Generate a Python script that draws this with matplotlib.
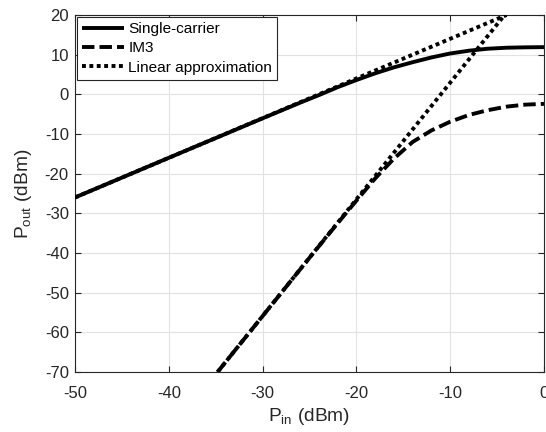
import matplotlib
matplotlib.use("Agg")
import matplotlib.pyplot as plt

plt.rcParams['font.family'] = ['Liberation Sans', 'DejaVu Sans']
plt.rcParams['mathtext.fontset'] = 'custom'
plt.rcParams['mathtext.rm'] = 'Liberation Sans'
plt.rcParams['mathtext.it'] = 'Liberation Sans:italic'

# Data
pin_single = [-50, -40, -30, -26, -24, -22, -20, -18, -16, -14, -12, -10, -8, -6, -4, -2, 0]
pout_single = [-26, -16, -6.05, -2.1, -0.2, 1.8, 3.6, 5.3, 6.8, 8.1, 9.3, 10.3, 11.0, 11.5, 11.75, 11.85, 11.9]

pin_im3 = [-34.8, -30, -25, -22, -20, -18, -16, -14, -12, -10, -8, -6, -4, -2, 0]
pout_im3 = [-70, -55.9, -41.2, -32.5, -26.8, -21.2, -16.2, -12.0, -9.1, -6.9, -5.2, -4.0, -3.1, -2.6, -2.4]

pin_lin_single = [-50, -4]
pout_lin_single = [-26, 20]
pin_lin_im3 = [-34.8, -4.2]
pout_lin_im3 = [-70, 20]

x_ticks = [-50, -40, -30, -20, -10, 0]
y_ticks = [-70, -60, -50, -40, -30, -20, -10, 0, 10, 20]
series_labels = ['Single-carrier', 'IM3', 'Linear approximation']

fig = plt.figure(figsize=(5.46, 4.32), dpi=100)
ax = fig.add_axes([75/546, 60/432, 469/546, 357/432])

lw = 2.8
ax.plot(pin_single, pout_single, color='black', lw=lw, solid_capstyle='butt',
        label=series_labels[0], zorder=3)
ax.plot(pin_im3, pout_im3, color='black', lw=lw, linestyle=(0, (3.2, 1.3)),
        dash_capstyle='butt', label=series_labels[1], zorder=3)
ax.plot(pin_lin_single, pout_lin_single, color='black', lw=lw,
        linestyle=(0, (1.0, 0.9)), dash_capstyle='butt',
        label=series_labels[2], zorder=4)
ax.plot(pin_lin_im3, pout_lin_im3, color='black', lw=lw,
        linestyle=(0, (1.0, 0.9)), dash_capstyle='butt', zorder=4)

ax.set_xlim(-50, 0)
ax.set_ylim(-70, 20)
ax.set_xticks(x_ticks)
ax.set_yticks(y_ticks)
ax.set_xticklabels([str(t) for t in x_ticks])
ax.set_yticklabels([str(t) for t in y_ticks])

ax.grid(True, color='#e2e2e2', linewidth=0.8)
ax.set_axisbelow(True)
for s in ax.spines.values():
    s.set_color('#262626')
    s.set_linewidth(0.8)
ax.tick_params(direction='in', length=4, width=0.8, colors='#262626',
               top=True, right=True, labelsize=12)
ax.tick_params(axis='x', pad=10)
ax.tick_params(axis='y', pad=4.5)
for lab in ax.get_xticklabels() + ax.get_yticklabels():
    lab.set_color('#262626')

ax.set_xlabel(r'P$_{\mathrm{in}}$ (dBm)', fontsize=13.8, color='#262626', labelpad=4)
ax.set_ylabel(r'P$_{\mathrm{out}}$ (dBm)', fontsize=13.8, color='#262626', labelpad=8)

leg = ax.legend(loc='upper left', fontsize=11.1, frameon=True, fancybox=False,
                borderaxespad=0.12, handlelength=2.7, handletextpad=0.3,
                labelspacing=0.35, borderpad=0.33)
leg.get_frame().set_edgecolor('#262626')
leg.get_frame().set_linewidth(0.8)
leg.get_frame().set_alpha(1)

fig.savefig('out.png', dpi=100)
